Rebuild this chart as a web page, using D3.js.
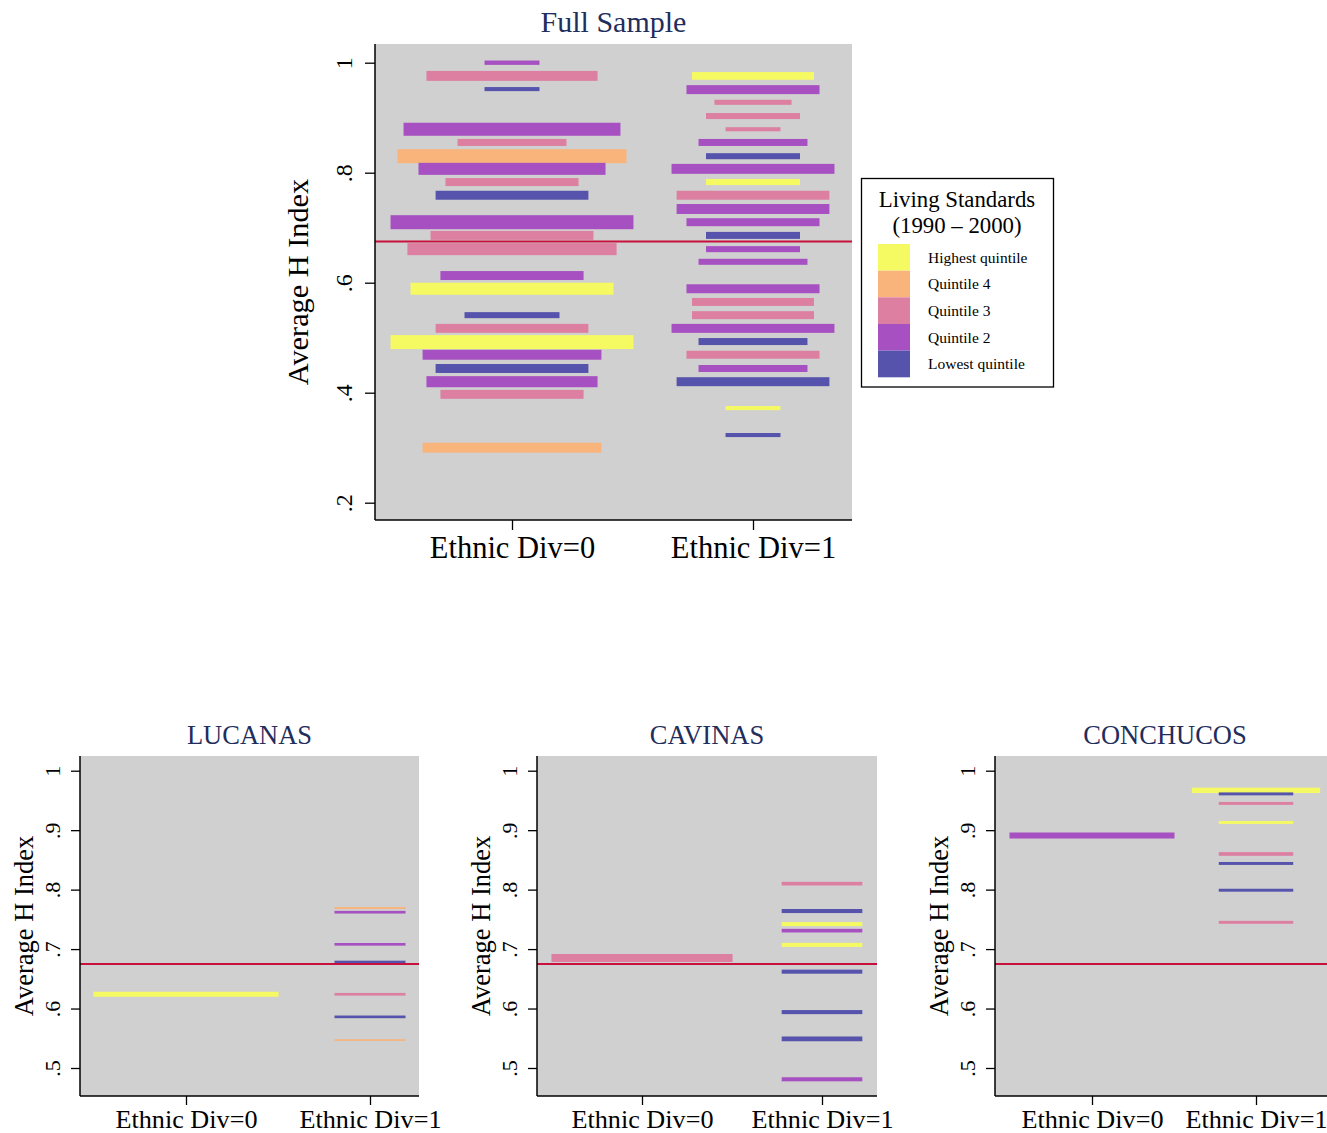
<!DOCTYPE html>
<html>
<head>
<meta charset="utf-8">
<script src="https://cdn.jsdelivr.net/npm/d3@7"></script>
<style>
  html, body { margin: 0; padding: 0; background: #fff; overflow: hidden; }
  svg { display: block; }
  text { font-family: "Liberation Serif", "Times New Roman", serif; }
</style>
</head>
<body>
<svg id="chart" width="1327" height="1133"></svg>
<script>
// ---------------- DATA ----------------
// quintile codes: 5 = Highest, 4, 3, 2, 1 = Lowest
const quintileLabels = ["Highest quintile", "Quintile 4", "Quintile 3", "Quintile 2", "Lowest quintile"];
const quintileCodes = [5, 4, 3, 2, 1];
const groupLabels = ["Ethnic Div=0", "Ethnic Div=1"];
const meanH = 0.675;

// each row: [average H index, quintile code, share (half-width), weight]
const fullDiv0 = [
  [1.000, 2, 0.114, 0.31], [0.976, 3, 0.355, 0.71], [0.952, 1, 0.114, 0.29],
  [0.879, 2, 0.450, 0.93], [0.855, 3, 0.226, 0.50], [0.830, 4, 0.475, 1.00],
  [0.807, 2, 0.388, 0.86], [0.783, 3, 0.276, 0.57], [0.759, 1, 0.317, 0.64],
  [0.710, 2, 0.504, 1.00], [0.686, 3, 0.338, 0.64], [0.661, 3, 0.434, 0.86],
  [0.613, 2, 0.297, 0.64], [0.589, 5, 0.421, 0.86], [0.541, 1, 0.197, 0.43],
  [0.517, 3, 0.317, 0.64], [0.492, 5, 0.504, 1.00], [0.469, 2, 0.371, 0.71],
  [0.444, 1, 0.317, 0.64], [0.420, 2, 0.355, 0.79], [0.397, 3, 0.297, 0.64],
  [0.300, 4, 0.371, 0.71]
];
const fullDiv1 = [
  [0.976, 5, 0.253, 0.55], [0.951, 2, 0.276, 0.64], [0.928, 3, 0.160, 0.36],
  [0.903, 3, 0.195, 0.43], [0.879, 3, 0.114, 0.29], [0.855, 2, 0.226, 0.50],
  [0.830, 1, 0.195, 0.43], [0.807, 2, 0.338, 0.71], [0.783, 5, 0.195, 0.43],
  [0.759, 3, 0.317, 0.64], [0.734, 2, 0.317, 0.71], [0.710, 2, 0.276, 0.57],
  [0.686, 1, 0.195, 0.50], [0.661, 2, 0.195, 0.43], [0.638, 2, 0.226, 0.43],
  [0.589, 2, 0.276, 0.64], [0.565, 3, 0.253, 0.57], [0.541, 3, 0.253, 0.57],
  [0.517, 2, 0.338, 0.64], [0.493, 1, 0.226, 0.50], [0.469, 3, 0.276, 0.57],
  [0.444, 2, 0.226, 0.50], [0.420, 1, 0.317, 0.64], [0.372, 5, 0.114, 0.29],
  [0.323, 1, 0.114, 0.29]
];
const lucanasDiv0 = [[0.624, 5, 0.503, 0.36]];
const lucanasDiv1 = [
  [0.769, 4, 0.193, 0.14], [0.762, 2, 0.193, 0.19], [0.708, 2, 0.193, 0.19],
  [0.678, 1, 0.193, 0.21], [0.624, 3, 0.193, 0.19], [0.586, 1, 0.193, 0.19],
  [0.547, 4, 0.193, 0.12]
];
const cavinasDiv0 = [[0.685, 3, 0.503, 0.57]];
const cavinasDiv1 = [
  [0.810, 3, 0.224, 0.26], [0.764, 1, 0.224, 0.29], [0.742, 5, 0.224, 0.29],
  [0.731, 2, 0.224, 0.26], [0.707, 5, 0.224, 0.29], [0.662, 1, 0.224, 0.29],
  [0.594, 1, 0.224, 0.29], [0.549, 1, 0.224, 0.34], [0.481, 2, 0.224, 0.29]
];
const conchucosDiv0 = [[0.891, 2, 0.503, 0.43]];
const conchucosDiv1 = [
  [0.967, 5, 0.391, 0.38], [0.961, 1, 0.227, 0.21], [0.945, 3, 0.227, 0.21],
  [0.913, 5, 0.227, 0.21], [0.860, 3, 0.227, 0.26], [0.844, 1, 0.227, 0.21],
  [0.799, 1, 0.227, 0.21], [0.745, 3, 0.227, 0.21]
];
const fullTicks = [0.2, 0.4, 0.6, 0.8, 1];
const regionTicks = [0.5, 0.6, 0.7, 0.8, 0.9, 1];

// ---------------- STYLE ----------------
const colorScale = d3.scaleOrdinal()
  .domain(quintileCodes)
  .range(["#f6fa62", "#f9b47b", "#dc7fa1", "#a650c1", "#5553ab"]);
const titleColor = "#1f2e5c";
const bgGray = "#d0d0d0";
const meanColor = "#c8103c";

const svg = d3.select("#chart");
const tickFmt = d => d === 1 ? "1" : d3.format(".1f")(d).replace(/^0/, "");

function drawPanel(cfg) {
  const { title, box, gx, yDomain, yRange, ticks, div0, div1, thickMax, fs } = cfg;
  const g = svg.append("g");
  const x = d3.scaleLinear().domain([0, 1]).range(gx);
  const y = d3.scaleLinear().domain(yDomain).range(yRange);
  const thick = d3.scaleLinear().domain([0, 1]).range([0, thickMax]);

  // plot background
  g.append("rect")
    .attr("x", box.x0).attr("y", box.y0)
    .attr("width", box.x1 - box.x0).attr("height", box.y1 - box.y0)
    .attr("fill", bgGray);

  // bars
  [div0, div1].forEach((rows, gi) => {
    g.append("g").selectAll("rect").data(rows).join("rect")
      .attr("x", d => x(gi - d[2]))
      .attr("width", d => x(gi + d[2]) - x(gi - d[2]))
      .attr("y", d => y(d[0]) - thick(d[3]) / 2)
      .attr("height", d => thick(d[3]))
      .attr("fill", d => colorScale(d[1]));
  });

  // mean line
  g.append("line")
    .attr("x1", box.x0).attr("x2", box.x1)
    .attr("y1", y(meanH)).attr("y2", y(meanH))
    .attr("stroke", meanColor).attr("stroke-width", 2);

  // y axis
  const yAxis = g.append("g")
    .attr("transform", `translate(${box.x0},0)`)
    .call(d3.axisLeft(y).tickValues(ticks).tickFormat(tickFmt).tickSize(cfg.tickLen).tickSizeOuter(0));
  yAxis.select(".domain").remove();
  yAxis.selectAll(".tick line").attr("stroke", "#000").attr("stroke-width", 1.3);
  yAxis.selectAll(".tick text")
    .attr("x", 0).attr("dy", 0)
    .attr("text-anchor", "middle")
    .attr("fill", "#000")
    .style("font-size", fs.tick + "px")
    .style("font-family", '"Liberation Serif", serif')
    .attr("transform", `translate(${-cfg.yLabelOff},0) rotate(-90)`);
  g.append("line")
    .attr("x1", box.x0).attr("x2", box.x0)
    .attr("y1", box.y0).attr("y2", box.y1)
    .attr("stroke", "#000").attr("stroke-width", 1.5);

  // x axis
  const xAxis = g.append("g")
    .attr("transform", `translate(0,${box.y1})`)
    .call(d3.axisBottom(x).tickValues([0, 1]).tickFormat((d, i) => groupLabels[i]).tickSize(cfg.tickLen).tickSizeOuter(0));
  xAxis.select(".domain").remove();
  xAxis.selectAll(".tick line").attr("stroke", "#000").attr("stroke-width", 1.3);
  xAxis.selectAll(".tick text")
    .attr("y", cfg.xLabelOff).attr("dy", 0)
    .attr("fill", "#000")
    .style("font-size", fs.xlab + "px")
    .style("font-family", '"Liberation Serif", serif');
  g.append("line")
    .attr("x1", box.x0).attr("x2", box.x1)
    .attr("y1", box.y1).attr("y2", box.y1)
    .attr("stroke", "#000").attr("stroke-width", 1.5);

  // y axis title
  g.append("text")
    .attr("transform", `translate(${box.x0 - cfg.yTitleOff},${(box.y0 + box.y1) / 2}) rotate(-90)`)
    .attr("text-anchor", "middle")
    .style("font-size", fs.ytitle + "px")
    .attr("fill", "#000")
    .text("Average H Index");

  // panel title
  g.append("text")
    .attr("x", (box.x0 + box.x1) / 2)
    .attr("y", cfg.titleY)
    .attr("text-anchor", "middle")
    .style("font-size", fs.title + "px")
    .attr("fill", titleColor)
    .text(title);
}

drawPanel({
  title: "Full Sample",
  box: { x0: 375, x1: 852, y0: 44, y1: 520 },
  gx: [512, 753], yDomain: [0.2, 1], yRange: [502.7, 62.7],
  ticks: fullTicks, div0: fullDiv0, div1: fullDiv1, thickMax: 14,
  tickLen: 10, yLabelOff: 23, xLabelOff: 37.5, yTitleOff: 67, titleY: 31.5,
  fs: { tick: 24, xlab: 30.5, ytitle: 30.3, title: 30 }
});

const regionCommon = {
  yDomain: [0.5, 1], yRange: [1068, 770.7], ticks: regionTicks, thickMax: 14,
  tickLen: 9, yLabelOff: 20, xLabelOff: 32, yTitleOff: 47.5, titleY: 744,
  fs: { tick: 22, xlab: 26.2, ytitle: 26.5, title: 26.5 }
};
drawPanel(Object.assign({}, regionCommon, {
  title: "LUCANAS", box: { x0: 80, x1: 419, y0: 756, y1: 1096 },
  gx: [186, 370], div0: lucanasDiv0, div1: lucanasDiv1
}));
drawPanel(Object.assign({}, regionCommon, {
  title: "CAVINAS", box: { x0: 537, x1: 877, y0: 756, y1: 1096 },
  gx: [642, 822], div0: cavinasDiv0, div1: cavinasDiv1
}));
drawPanel(Object.assign({}, regionCommon, {
  title: "CONCHUCOS", box: { x0: 995, x1: 1335, y0: 756, y1: 1096 },
  gx: [1092, 1256], div0: conchucosDiv0, div1: conchucosDiv1
}));

// ---------------- LEGEND ----------------
const leg = svg.append("g");
leg.append("rect")
  .attr("x", 861.5).attr("y", 178.5).attr("width", 192).attr("height", 208.5)
  .attr("fill", "#fff").attr("stroke", "#000").attr("stroke-width", 1.3);
leg.append("text").attr("x", 957).attr("y", 207)
  .attr("text-anchor", "middle").style("font-size", "22.8px").attr("fill", "#000")
  .text("Living Standards");
leg.append("text").attr("x", 957).attr("y", 232.5)
  .attr("text-anchor", "middle").style("font-size", "22.8px").attr("fill", "#000")
  .text("(1990 \u2013 2000)");
const legY = d3.scaleBand().domain(quintileCodes).range([244, 377.3]);
const items = leg.selectAll("g.item").data(quintileCodes).join("g").attr("class", "item");
items.append("rect")
  .attr("x", 878).attr("y", d => legY(d))
  .attr("width", 32).attr("height", legY.bandwidth())
  .attr("fill", d => colorScale(d));
items.append("text")
  .attr("x", 928).attr("y", d => legY(d) + legY.bandwidth() / 2 + 5.5)
  .style("font-size", "15.5px").attr("fill", "#000")
  .text((d, i) => quintileLabels[i]);
</script>
</body>
</html>
